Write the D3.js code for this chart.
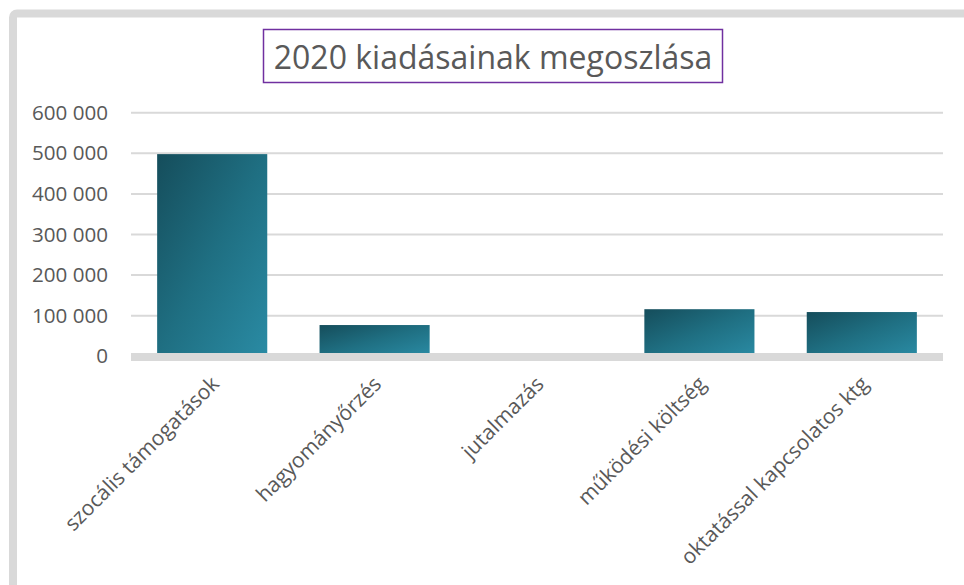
<!DOCTYPE html>
<html>
<head>
<meta charset="utf-8">
<script src="https://cdn.jsdelivr.net/npm/d3@7"></script>
<style>
  body { margin: 0; background: #fff; }
  svg { display: block; font-family: "Open Sans", sans-serif; }
</style>
</head>
<body>
<svg id="chart"></svg>
<script>
// chart data
const categories = ["szocális támogatások", "hagyományőrzés", "jutalmazás", "működési költség", "oktatással kapcsolatos ktg"];
const values = [498000, 77000, 0, 116000, 109000];
const yTicks = [0, 100000, 200000, 300000, 400000, 500000, 600000];
const title = "2020 kiadásainak megoszlása";

const width = 964, height = 585;
const margin = {top: 113, right: 21, bottom: 229, left: 131};
const innerW = width - margin.left - margin.right;

const svg = d3.select("#chart")
    .attr("width", width)
    .attr("height", height);

// gradient for bars
const defs = svg.append("defs");
const grad = defs.append("linearGradient")
    .attr("id", "barGrad")
    .attr("x1", 0).attr("y1", 0).attr("x2", 1).attr("y2", 1);
grad.append("stop").attr("offset", "0%").attr("stop-color", "#154d5b");
grad.append("stop").attr("offset", "50%").attr("stop-color", "#1f6f82");
grad.append("stop").attr("offset", "100%").attr("stop-color", "#2a8ba4");

// outer frame
svg.append("rect")
    .attr("x", 13).attr("y", 13.5)
    .attr("width", 1000).attr("height", 700)
    .attr("rx", 4)
    .attr("fill", "#fff")
    .attr("stroke", "#d9d9d9")
    .attr("stroke-width", 8);

const xScale = d3.scaleBand()
    .domain(categories)
    .range([margin.left, margin.left + innerW])
    .paddingInner(0.322)
    .paddingOuter(0.161);

const yScale = d3.scaleLinear()
    .domain([0, 600000])
    .range([356.3, 112.7]);

const fmt = d => d3.format(",")(d).replace(/,/g, " ");

// gridlines
svg.append("g")
    .selectAll("line")
    .data(yTicks.filter(d => d > 0))
    .join("line")
    .attr("x1", margin.left)
    .attr("x2", margin.left + innerW)
    .attr("y1", d => yScale(d))
    .attr("y2", d => yScale(d))
    .attr("stroke", "#d9d9d9")
    .attr("stroke-width", 2);

// y axis labels
const yAxis = d3.axisLeft(yScale)
    .tickValues(yTicks)
    .tickFormat(fmt)
    .tickSize(0)
    .tickPadding(23);

const yAxisG = svg.append("g")
    .attr("transform", `translate(${margin.left},0)`)
    .call(yAxis);
yAxisG.select(".domain").remove();
yAxisG.selectAll("text")
    .attr("font-family", "Open Sans")
    .attr("font-size", 20.6)
    .attr("fill", "#595959");

// bars
svg.append("g")
    .selectAll("rect")
    .data(values)
    .join("rect")
    .attr("x", (d, i) => xScale(categories[i]))
    .attr("y", d => yScale(d))
    .attr("width", xScale.bandwidth())
    .attr("height", d => yScale(0) - yScale(d))
    .attr("fill", "url(#barGrad)");

// x axis line
svg.append("line")
    .attr("x1", margin.left)
    .attr("x2", margin.left + innerW)
    .attr("y1", yScale(0) + 0.7)
    .attr("y2", yScale(0) + 0.7)
    .attr("stroke", "#d9d9d9")
    .attr("stroke-width", 8);

// x axis labels
const xAxis = d3.axisBottom(xScale).tickSize(0).tickPadding(0);
const xAxisG = svg.append("g")
    .attr("transform", `translate(0,${yScale(0)})`)
    .call(xAxis);
xAxisG.select(".domain").remove();
xAxisG.selectAll("text")
    .attr("font-family", "Open Sans")
    .attr("font-size", 21)
    .attr("fill", "#595959")
    .attr("text-anchor", "end")
    .attr("dy", 0)
    .attr("transform", "translate(8,29) rotate(-45)");

// title
svg.append("rect")
    .attr("x", 263.5).attr("y", 29.5)
    .attr("width", 459).attr("height", 53)
    .attr("fill", "#fff")
    .attr("stroke", "#7030a0")
    .attr("stroke-width", 1.5);

svg.append("text")
    .attr("x", 493)
    .attr("y", 69)
    .attr("text-anchor", "middle")
    .attr("font-family", "Open Sans")
    .attr("font-size", 32)
    .attr("fill", "#595959")
    .text(title);
</script>
</body>
</html>
